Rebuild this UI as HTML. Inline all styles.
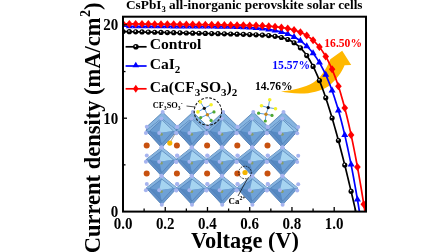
<!DOCTYPE html>
<html><head><meta charset="utf-8"><style>html,body{margin:0;padding:0;background:#fff;}svg{display:block;}svg{will-change:transform;}</style></head>
<body><svg width="448" height="252" viewBox="0 0 448 252">
<rect width="448" height="252" fill="#fff"/>
<g><polygon points="162.7,112.1 177.6,126.7 177.0,130.8 161.8,147.5 146.2,130.8 147.2,126.3" fill="#86b4e0" stroke="#4474ab" stroke-width="0.7"/><polygon points="161.8,118.5 177.0,130.8 161.8,147.5 146.2,130.8" fill="#6d9dd0" stroke="#3f6da5" stroke-width="0.8"/><polygon points="161.8,118.5 161.8,119.7 149.8,131.0 146.2,130.8" fill="#86b3de"/><polygon points="161.8,118.5 177.0,130.8 173.4,131.0 161.8,119.7" fill="#94c0e6"/><polygon points="177.0,130.8 161.8,147.5 161.8,143.9 173.4,131.0" fill="#6d9bcf"/><polygon points="161.8,147.5 146.2,130.8 149.8,131.0 161.8,143.9" fill="#5f8ec6"/><polygon points="159.2,133.0 161.8,119.7 149.8,131.0" fill="#6b9dd2"/><polygon points="159.2,133.0 161.8,119.7 173.4,131.0" fill="#a6d4f1"/><polygon points="159.2,133.0 173.4,131.0 161.8,143.9" fill="#6fa2d6"/><polygon points="159.2,133.0 161.8,143.9 149.8,131.0" fill="#5689c3"/><polygon points="161.8,119.7 173.4,131.0 161.8,143.9 149.8,131.0" fill="none" stroke="#4a78b0" stroke-width="0.6"/><circle cx="161.4" cy="134.2" r="1.5" fill="#8d9c58" opacity="0.85"/><polygon points="192.9,112.1 207.8,126.7 207.2,130.8 192.0,147.5 176.4,130.8 177.4,126.3" fill="#86b4e0" stroke="#4474ab" stroke-width="0.7"/><polygon points="192.0,118.5 207.2,130.8 192.0,147.5 176.4,130.8" fill="#6d9dd0" stroke="#3f6da5" stroke-width="0.8"/><polygon points="192.0,118.5 192.0,119.7 180.0,131.0 176.4,130.8" fill="#86b3de"/><polygon points="192.0,118.5 207.2,130.8 203.6,131.0 192.0,119.7" fill="#94c0e6"/><polygon points="207.2,130.8 192.0,147.5 192.0,143.9 203.6,131.0" fill="#6d9bcf"/><polygon points="192.0,147.5 176.4,130.8 180.0,131.0 192.0,143.9" fill="#5f8ec6"/><polygon points="189.4,133.0 192.0,119.7 180.0,131.0" fill="#6b9dd2"/><polygon points="189.4,133.0 192.0,119.7 203.6,131.0" fill="#a6d4f1"/><polygon points="189.4,133.0 203.6,131.0 192.0,143.9" fill="#6fa2d6"/><polygon points="189.4,133.0 192.0,143.9 180.0,131.0" fill="#5689c3"/><polygon points="192.0,119.7 203.6,131.0 192.0,143.9 180.0,131.0" fill="none" stroke="#4a78b0" stroke-width="0.6"/><circle cx="191.6" cy="134.2" r="1.5" fill="#8d9c58" opacity="0.85"/><polygon points="223.1,112.1 238.0,126.7 237.4,130.8 222.2,147.5 206.6,130.8 207.6,126.3" fill="#86b4e0" stroke="#4474ab" stroke-width="0.7"/><polygon points="222.2,118.5 237.4,130.8 222.2,147.5 206.6,130.8" fill="#6d9dd0" stroke="#3f6da5" stroke-width="0.8"/><polygon points="222.2,118.5 222.2,119.7 210.2,131.0 206.6,130.8" fill="#86b3de"/><polygon points="222.2,118.5 237.4,130.8 233.8,131.0 222.2,119.7" fill="#94c0e6"/><polygon points="237.4,130.8 222.2,147.5 222.2,143.9 233.8,131.0" fill="#6d9bcf"/><polygon points="222.2,147.5 206.6,130.8 210.2,131.0 222.2,143.9" fill="#5f8ec6"/><polygon points="219.6,133.0 222.2,119.7 210.2,131.0" fill="#6b9dd2"/><polygon points="219.6,133.0 222.2,119.7 233.8,131.0" fill="#a6d4f1"/><polygon points="219.6,133.0 233.8,131.0 222.2,143.9" fill="#6fa2d6"/><polygon points="219.6,133.0 222.2,143.9 210.2,131.0" fill="#5689c3"/><polygon points="222.2,119.7 233.8,131.0 222.2,143.9 210.2,131.0" fill="none" stroke="#4a78b0" stroke-width="0.6"/><circle cx="221.8" cy="134.2" r="1.5" fill="#8d9c58" opacity="0.85"/><polygon points="253.3,112.1 268.2,126.7 267.6,130.8 252.4,147.5 236.8,130.8 237.8,126.3" fill="#86b4e0" stroke="#4474ab" stroke-width="0.7"/><polygon points="252.4,118.5 267.6,130.8 252.4,147.5 236.8,130.8" fill="#6d9dd0" stroke="#3f6da5" stroke-width="0.8"/><polygon points="252.4,118.5 252.4,119.7 240.4,131.0 236.8,130.8" fill="#86b3de"/><polygon points="252.4,118.5 267.6,130.8 264.0,131.0 252.4,119.7" fill="#94c0e6"/><polygon points="267.6,130.8 252.4,147.5 252.4,143.9 264.0,131.0" fill="#6d9bcf"/><polygon points="252.4,147.5 236.8,130.8 240.4,131.0 252.4,143.9" fill="#5f8ec6"/><polygon points="249.8,133.0 252.4,119.7 240.4,131.0" fill="#6b9dd2"/><polygon points="249.8,133.0 252.4,119.7 264.0,131.0" fill="#a6d4f1"/><polygon points="249.8,133.0 264.0,131.0 252.4,143.9" fill="#6fa2d6"/><polygon points="249.8,133.0 252.4,143.9 240.4,131.0" fill="#5689c3"/><polygon points="252.4,119.7 264.0,131.0 252.4,143.9 240.4,131.0" fill="none" stroke="#4a78b0" stroke-width="0.6"/><circle cx="252.0" cy="134.2" r="1.5" fill="#8d9c58" opacity="0.85"/><polygon points="283.5,112.1 298.4,126.7 297.8,130.8 282.6,147.5 267.0,130.8 268.0,126.3" fill="#86b4e0" stroke="#4474ab" stroke-width="0.7"/><polygon points="282.6,118.5 297.8,130.8 282.6,147.5 267.0,130.8" fill="#6d9dd0" stroke="#3f6da5" stroke-width="0.8"/><polygon points="282.6,118.5 282.6,119.7 270.6,131.0 267.0,130.8" fill="#86b3de"/><polygon points="282.6,118.5 297.8,130.8 294.2,131.0 282.6,119.7" fill="#94c0e6"/><polygon points="297.8,130.8 282.6,147.5 282.6,143.9 294.2,131.0" fill="#6d9bcf"/><polygon points="282.6,147.5 267.0,130.8 270.6,131.0 282.6,143.9" fill="#5f8ec6"/><polygon points="280.0,133.0 282.6,119.7 270.6,131.0" fill="#6b9dd2"/><polygon points="280.0,133.0 282.6,119.7 294.2,131.0" fill="#a6d4f1"/><polygon points="280.0,133.0 294.2,131.0 282.6,143.9" fill="#6fa2d6"/><polygon points="280.0,133.0 282.6,143.9 270.6,131.0" fill="#5689c3"/><polygon points="282.6,119.7 294.2,131.0 282.6,143.9 270.6,131.0" fill="none" stroke="#4a78b0" stroke-width="0.6"/><circle cx="282.2" cy="134.2" r="1.5" fill="#8d9c58" opacity="0.85"/><polygon points="161.8,147.2 177.0,159.5 161.8,176.2 146.2,159.5" fill="#6d9dd0" stroke="#3f6da5" stroke-width="0.8"/><polygon points="161.8,147.2 161.8,150.6 149.8,159.7 146.2,159.5" fill="#86b3de"/><polygon points="161.8,147.2 177.0,159.5 173.4,159.7 161.8,150.6" fill="#94c0e6"/><polygon points="177.0,159.5 161.8,176.2 161.8,172.6 173.4,159.7" fill="#6d9bcf"/><polygon points="161.8,176.2 146.2,159.5 149.8,159.7 161.8,172.6" fill="#5f8ec6"/><polygon points="159.2,161.7 161.8,150.6 149.8,159.7" fill="#6b9dd2"/><polygon points="159.2,161.7 161.8,150.6 173.4,159.7" fill="#a6d4f1"/><polygon points="159.2,161.7 173.4,159.7 161.8,172.6" fill="#6fa2d6"/><polygon points="159.2,161.7 161.8,172.6 149.8,159.7" fill="#5689c3"/><polygon points="161.8,150.6 173.4,159.7 161.8,172.6 149.8,159.7" fill="none" stroke="#4a78b0" stroke-width="0.6"/><circle cx="161.4" cy="162.9" r="1.5" fill="#8d9c58" opacity="0.85"/><polygon points="192.0,147.2 207.2,159.5 192.0,176.2 176.4,159.5" fill="#6d9dd0" stroke="#3f6da5" stroke-width="0.8"/><polygon points="192.0,147.2 192.0,150.6 180.0,159.7 176.4,159.5" fill="#86b3de"/><polygon points="192.0,147.2 207.2,159.5 203.6,159.7 192.0,150.6" fill="#94c0e6"/><polygon points="207.2,159.5 192.0,176.2 192.0,172.6 203.6,159.7" fill="#6d9bcf"/><polygon points="192.0,176.2 176.4,159.5 180.0,159.7 192.0,172.6" fill="#5f8ec6"/><polygon points="189.4,161.7 192.0,150.6 180.0,159.7" fill="#6b9dd2"/><polygon points="189.4,161.7 192.0,150.6 203.6,159.7" fill="#a6d4f1"/><polygon points="189.4,161.7 203.6,159.7 192.0,172.6" fill="#6fa2d6"/><polygon points="189.4,161.7 192.0,172.6 180.0,159.7" fill="#5689c3"/><polygon points="192.0,150.6 203.6,159.7 192.0,172.6 180.0,159.7" fill="none" stroke="#4a78b0" stroke-width="0.6"/><circle cx="191.6" cy="162.9" r="1.5" fill="#8d9c58" opacity="0.85"/><polygon points="222.2,147.2 237.4,159.5 222.2,176.2 206.6,159.5" fill="#6d9dd0" stroke="#3f6da5" stroke-width="0.8"/><polygon points="222.2,147.2 222.2,150.6 210.2,159.7 206.6,159.5" fill="#86b3de"/><polygon points="222.2,147.2 237.4,159.5 233.8,159.7 222.2,150.6" fill="#94c0e6"/><polygon points="237.4,159.5 222.2,176.2 222.2,172.6 233.8,159.7" fill="#6d9bcf"/><polygon points="222.2,176.2 206.6,159.5 210.2,159.7 222.2,172.6" fill="#5f8ec6"/><polygon points="219.6,161.7 222.2,150.6 210.2,159.7" fill="#6b9dd2"/><polygon points="219.6,161.7 222.2,150.6 233.8,159.7" fill="#a6d4f1"/><polygon points="219.6,161.7 233.8,159.7 222.2,172.6" fill="#6fa2d6"/><polygon points="219.6,161.7 222.2,172.6 210.2,159.7" fill="#5689c3"/><polygon points="222.2,150.6 233.8,159.7 222.2,172.6 210.2,159.7" fill="none" stroke="#4a78b0" stroke-width="0.6"/><circle cx="221.8" cy="162.9" r="1.5" fill="#8d9c58" opacity="0.85"/><polygon points="252.4,147.2 267.6,159.5 252.4,176.2 236.8,159.5" fill="#6d9dd0" stroke="#3f6da5" stroke-width="0.8"/><polygon points="252.4,147.2 252.4,150.6 240.4,159.7 236.8,159.5" fill="#86b3de"/><polygon points="252.4,147.2 267.6,159.5 264.0,159.7 252.4,150.6" fill="#94c0e6"/><polygon points="267.6,159.5 252.4,176.2 252.4,172.6 264.0,159.7" fill="#6d9bcf"/><polygon points="252.4,176.2 236.8,159.5 240.4,159.7 252.4,172.6" fill="#5f8ec6"/><polygon points="249.8,161.7 252.4,150.6 240.4,159.7" fill="#6b9dd2"/><polygon points="249.8,161.7 252.4,150.6 264.0,159.7" fill="#a6d4f1"/><polygon points="249.8,161.7 264.0,159.7 252.4,172.6" fill="#6fa2d6"/><polygon points="249.8,161.7 252.4,172.6 240.4,159.7" fill="#5689c3"/><polygon points="252.4,150.6 264.0,159.7 252.4,172.6 240.4,159.7" fill="none" stroke="#4a78b0" stroke-width="0.6"/><circle cx="252.0" cy="162.9" r="1.5" fill="#8d9c58" opacity="0.85"/><polygon points="282.6,147.2 297.8,159.5 282.6,176.2 267.0,159.5" fill="#6d9dd0" stroke="#3f6da5" stroke-width="0.8"/><polygon points="282.6,147.2 282.6,150.6 270.6,159.7 267.0,159.5" fill="#86b3de"/><polygon points="282.6,147.2 297.8,159.5 294.2,159.7 282.6,150.6" fill="#94c0e6"/><polygon points="297.8,159.5 282.6,176.2 282.6,172.6 294.2,159.7" fill="#6d9bcf"/><polygon points="282.6,176.2 267.0,159.5 270.6,159.7 282.6,172.6" fill="#5f8ec6"/><polygon points="280.0,161.7 282.6,150.6 270.6,159.7" fill="#6b9dd2"/><polygon points="280.0,161.7 282.6,150.6 294.2,159.7" fill="#a6d4f1"/><polygon points="280.0,161.7 294.2,159.7 282.6,172.6" fill="#6fa2d6"/><polygon points="280.0,161.7 282.6,172.6 270.6,159.7" fill="#5689c3"/><polygon points="282.6,150.6 294.2,159.7 282.6,172.6 270.6,159.7" fill="none" stroke="#4a78b0" stroke-width="0.6"/><circle cx="282.2" cy="162.9" r="1.5" fill="#8d9c58" opacity="0.85"/><polygon points="161.8,175.7 177.0,188.0 161.8,204.7 146.2,188.0" fill="#6d9dd0" stroke="#3f6da5" stroke-width="0.8"/><polygon points="161.8,175.7 161.8,179.1 149.8,188.2 146.2,188.0" fill="#86b3de"/><polygon points="161.8,175.7 177.0,188.0 173.4,188.2 161.8,179.1" fill="#94c0e6"/><polygon points="177.0,188.0 161.8,204.7 161.8,201.1 173.4,188.2" fill="#6d9bcf"/><polygon points="161.8,204.7 146.2,188.0 149.8,188.2 161.8,201.1" fill="#5f8ec6"/><polygon points="159.2,190.2 161.8,179.1 149.8,188.2" fill="#6b9dd2"/><polygon points="159.2,190.2 161.8,179.1 173.4,188.2" fill="#a6d4f1"/><polygon points="159.2,190.2 173.4,188.2 161.8,201.1" fill="#6fa2d6"/><polygon points="159.2,190.2 161.8,201.1 149.8,188.2" fill="#5689c3"/><polygon points="161.8,179.1 173.4,188.2 161.8,201.1 149.8,188.2" fill="none" stroke="#4a78b0" stroke-width="0.6"/><circle cx="161.4" cy="191.4" r="1.5" fill="#8d9c58" opacity="0.85"/><polygon points="192.0,175.7 207.2,188.0 192.0,204.7 176.4,188.0" fill="#6d9dd0" stroke="#3f6da5" stroke-width="0.8"/><polygon points="192.0,175.7 192.0,179.1 180.0,188.2 176.4,188.0" fill="#86b3de"/><polygon points="192.0,175.7 207.2,188.0 203.6,188.2 192.0,179.1" fill="#94c0e6"/><polygon points="207.2,188.0 192.0,204.7 192.0,201.1 203.6,188.2" fill="#6d9bcf"/><polygon points="192.0,204.7 176.4,188.0 180.0,188.2 192.0,201.1" fill="#5f8ec6"/><polygon points="189.4,190.2 192.0,179.1 180.0,188.2" fill="#6b9dd2"/><polygon points="189.4,190.2 192.0,179.1 203.6,188.2" fill="#a6d4f1"/><polygon points="189.4,190.2 203.6,188.2 192.0,201.1" fill="#6fa2d6"/><polygon points="189.4,190.2 192.0,201.1 180.0,188.2" fill="#5689c3"/><polygon points="192.0,179.1 203.6,188.2 192.0,201.1 180.0,188.2" fill="none" stroke="#4a78b0" stroke-width="0.6"/><circle cx="191.6" cy="191.4" r="1.5" fill="#8d9c58" opacity="0.85"/><polygon points="222.2,175.7 237.4,188.0 222.2,204.7 206.6,188.0" fill="#6d9dd0" stroke="#3f6da5" stroke-width="0.8"/><polygon points="222.2,175.7 222.2,179.1 210.2,188.2 206.6,188.0" fill="#86b3de"/><polygon points="222.2,175.7 237.4,188.0 233.8,188.2 222.2,179.1" fill="#94c0e6"/><polygon points="237.4,188.0 222.2,204.7 222.2,201.1 233.8,188.2" fill="#6d9bcf"/><polygon points="222.2,204.7 206.6,188.0 210.2,188.2 222.2,201.1" fill="#5f8ec6"/><polygon points="219.6,190.2 222.2,179.1 210.2,188.2" fill="#6b9dd2"/><polygon points="219.6,190.2 222.2,179.1 233.8,188.2" fill="#a6d4f1"/><polygon points="219.6,190.2 233.8,188.2 222.2,201.1" fill="#6fa2d6"/><polygon points="219.6,190.2 222.2,201.1 210.2,188.2" fill="#5689c3"/><polygon points="222.2,179.1 233.8,188.2 222.2,201.1 210.2,188.2" fill="none" stroke="#4a78b0" stroke-width="0.6"/><circle cx="221.8" cy="191.4" r="1.5" fill="#8d9c58" opacity="0.85"/><polygon points="252.4,175.7 267.6,188.0 252.4,204.7 236.8,188.0" fill="#6d9dd0" stroke="#3f6da5" stroke-width="0.8"/><polygon points="252.4,175.7 252.4,179.1 240.4,188.2 236.8,188.0" fill="#86b3de"/><polygon points="252.4,175.7 267.6,188.0 264.0,188.2 252.4,179.1" fill="#94c0e6"/><polygon points="267.6,188.0 252.4,204.7 252.4,201.1 264.0,188.2" fill="#6d9bcf"/><polygon points="252.4,204.7 236.8,188.0 240.4,188.2 252.4,201.1" fill="#5f8ec6"/><polygon points="249.8,190.2 252.4,179.1 240.4,188.2" fill="#6b9dd2"/><polygon points="249.8,190.2 252.4,179.1 264.0,188.2" fill="#a6d4f1"/><polygon points="249.8,190.2 264.0,188.2 252.4,201.1" fill="#6fa2d6"/><polygon points="249.8,190.2 252.4,201.1 240.4,188.2" fill="#5689c3"/><polygon points="252.4,179.1 264.0,188.2 252.4,201.1 240.4,188.2" fill="none" stroke="#4a78b0" stroke-width="0.6"/><circle cx="252.0" cy="191.4" r="1.5" fill="#8d9c58" opacity="0.85"/><polygon points="282.6,175.7 297.8,188.0 282.6,204.7 267.0,188.0" fill="#6d9dd0" stroke="#3f6da5" stroke-width="0.8"/><polygon points="282.6,175.7 282.6,179.1 270.6,188.2 267.0,188.0" fill="#86b3de"/><polygon points="282.6,175.7 297.8,188.0 294.2,188.2 282.6,179.1" fill="#94c0e6"/><polygon points="297.8,188.0 282.6,204.7 282.6,201.1 294.2,188.2" fill="#6d9bcf"/><polygon points="282.6,204.7 267.0,188.0 270.6,188.2 282.6,201.1" fill="#5f8ec6"/><polygon points="280.0,190.2 282.6,179.1 270.6,188.2" fill="#6b9dd2"/><polygon points="280.0,190.2 282.6,179.1 294.2,188.2" fill="#a6d4f1"/><polygon points="280.0,190.2 294.2,188.2 282.6,201.1" fill="#6fa2d6"/><polygon points="280.0,190.2 282.6,201.1 270.6,188.2" fill="#5689c3"/><polygon points="282.6,179.1 294.2,188.2 282.6,201.1 270.6,188.2" fill="none" stroke="#4a78b0" stroke-width="0.6"/><circle cx="282.2" cy="191.4" r="1.5" fill="#8d9c58" opacity="0.85"/></g>
<g fill="#a6b4ef"><circle cx="161.4" cy="118.5" r="2.0"/><circle cx="161.8" cy="147.5" r="2.0"/><circle cx="159.2" cy="133.0" r="2.0"/><circle cx="145.9" cy="133.0" r="2.0"/><circle cx="146.8" cy="126.7" r="2.0"/><circle cx="176.4" cy="133.2" r="2.0"/><circle cx="177.4" cy="127.0" r="2.0"/><circle cx="162.7" cy="112.1" r="2.0"/><circle cx="191.6" cy="118.5" r="2.0"/><circle cx="192.0" cy="147.5" r="2.0"/><circle cx="189.4" cy="133.0" r="2.0"/><circle cx="176.1" cy="133.0" r="2.0"/><circle cx="177.0" cy="126.7" r="2.0"/><circle cx="206.6" cy="133.2" r="2.0"/><circle cx="207.6" cy="127.0" r="2.0"/><circle cx="192.9" cy="112.1" r="2.0"/><circle cx="221.8" cy="118.5" r="2.0"/><circle cx="222.2" cy="147.5" r="2.0"/><circle cx="219.6" cy="133.0" r="2.0"/><circle cx="206.3" cy="133.0" r="2.0"/><circle cx="207.2" cy="126.7" r="2.0"/><circle cx="236.8" cy="133.2" r="2.0"/><circle cx="237.8" cy="127.0" r="2.0"/><circle cx="223.1" cy="112.1" r="2.0"/><circle cx="252.0" cy="118.5" r="2.0"/><circle cx="252.4" cy="147.5" r="2.0"/><circle cx="249.8" cy="133.0" r="2.0"/><circle cx="236.5" cy="133.0" r="2.0"/><circle cx="237.4" cy="126.7" r="2.0"/><circle cx="267.0" cy="133.2" r="2.0"/><circle cx="268.0" cy="127.0" r="2.0"/><circle cx="253.3" cy="112.1" r="2.0"/><circle cx="282.2" cy="118.5" r="2.0"/><circle cx="282.6" cy="147.5" r="2.0"/><circle cx="280.0" cy="133.0" r="2.0"/><circle cx="266.7" cy="133.0" r="2.0"/><circle cx="267.6" cy="126.7" r="2.0"/><circle cx="297.2" cy="133.2" r="2.0"/><circle cx="298.2" cy="127.0" r="2.0"/><circle cx="283.5" cy="112.1" r="2.0"/><circle cx="161.4" cy="147.2" r="2.0"/><circle cx="161.8" cy="176.2" r="2.0"/><circle cx="159.2" cy="161.7" r="2.0"/><circle cx="145.9" cy="161.7" r="2.0"/><circle cx="146.8" cy="155.4" r="2.0"/><circle cx="176.4" cy="161.9" r="2.0"/><circle cx="177.4" cy="155.7" r="2.0"/><circle cx="191.6" cy="147.2" r="2.0"/><circle cx="192.0" cy="176.2" r="2.0"/><circle cx="189.4" cy="161.7" r="2.0"/><circle cx="176.1" cy="161.7" r="2.0"/><circle cx="177.0" cy="155.4" r="2.0"/><circle cx="206.6" cy="161.9" r="2.0"/><circle cx="207.6" cy="155.7" r="2.0"/><circle cx="221.8" cy="147.2" r="2.0"/><circle cx="222.2" cy="176.2" r="2.0"/><circle cx="219.6" cy="161.7" r="2.0"/><circle cx="206.3" cy="161.7" r="2.0"/><circle cx="207.2" cy="155.4" r="2.0"/><circle cx="236.8" cy="161.9" r="2.0"/><circle cx="237.8" cy="155.7" r="2.0"/><circle cx="252.0" cy="147.2" r="2.0"/><circle cx="252.4" cy="176.2" r="2.0"/><circle cx="249.8" cy="161.7" r="2.0"/><circle cx="236.5" cy="161.7" r="2.0"/><circle cx="237.4" cy="155.4" r="2.0"/><circle cx="267.0" cy="161.9" r="2.0"/><circle cx="268.0" cy="155.7" r="2.0"/><circle cx="282.2" cy="147.2" r="2.0"/><circle cx="282.6" cy="176.2" r="2.0"/><circle cx="280.0" cy="161.7" r="2.0"/><circle cx="266.7" cy="161.7" r="2.0"/><circle cx="267.6" cy="155.4" r="2.0"/><circle cx="297.2" cy="161.9" r="2.0"/><circle cx="298.2" cy="155.7" r="2.0"/><circle cx="161.4" cy="175.7" r="2.0"/><circle cx="161.8" cy="204.7" r="2.0"/><circle cx="159.2" cy="190.2" r="2.0"/><circle cx="145.9" cy="190.2" r="2.0"/><circle cx="146.8" cy="183.9" r="2.0"/><circle cx="176.4" cy="190.4" r="2.0"/><circle cx="177.4" cy="184.2" r="2.0"/><circle cx="191.6" cy="175.7" r="2.0"/><circle cx="192.0" cy="204.7" r="2.0"/><circle cx="189.4" cy="190.2" r="2.0"/><circle cx="176.1" cy="190.2" r="2.0"/><circle cx="177.0" cy="183.9" r="2.0"/><circle cx="206.6" cy="190.4" r="2.0"/><circle cx="207.6" cy="184.2" r="2.0"/><circle cx="221.8" cy="175.7" r="2.0"/><circle cx="222.2" cy="204.7" r="2.0"/><circle cx="219.6" cy="190.2" r="2.0"/><circle cx="206.3" cy="190.2" r="2.0"/><circle cx="207.2" cy="183.9" r="2.0"/><circle cx="236.8" cy="190.4" r="2.0"/><circle cx="237.8" cy="184.2" r="2.0"/><circle cx="252.0" cy="175.7" r="2.0"/><circle cx="252.4" cy="204.7" r="2.0"/><circle cx="249.8" cy="190.2" r="2.0"/><circle cx="236.5" cy="190.2" r="2.0"/><circle cx="237.4" cy="183.9" r="2.0"/><circle cx="267.0" cy="190.4" r="2.0"/><circle cx="268.0" cy="184.2" r="2.0"/><circle cx="282.2" cy="175.7" r="2.0"/><circle cx="282.6" cy="204.7" r="2.0"/><circle cx="280.0" cy="190.2" r="2.0"/><circle cx="266.7" cy="190.2" r="2.0"/><circle cx="267.6" cy="183.9" r="2.0"/><circle cx="297.2" cy="190.4" r="2.0"/><circle cx="298.2" cy="184.2" r="2.0"/></g>
<g fill="#c8510f"><circle cx="146.7" cy="145.5" r="3"/><circle cx="176.89999999999998" cy="145.5" r="3"/><circle cx="207.1" cy="145.5" r="3"/><circle cx="237.29999999999998" cy="145.5" r="3"/><circle cx="267.5" cy="145.5" r="3"/><circle cx="146.7" cy="173.5" r="3"/><circle cx="176.89999999999998" cy="173.5" r="3"/><circle cx="207.1" cy="173.5" r="3"/><circle cx="237.29999999999998" cy="173.5" r="3"/><circle cx="267.5" cy="173.5" r="3"/></g>
<line x1="169.8" y1="143" x2="175" y2="134" stroke="#777" stroke-width="0.7"/>
<circle cx="169.8" cy="143.1" r="2.6" fill="#f5b400"/>
<circle cx="245" cy="172.5" r="2.6" fill="#f5b400"/>
<circle cx="245" cy="172.5" r="6.3" fill="none" stroke="#111" stroke-width="0.9" stroke-dasharray="1.6,1.1"/>
<line x1="238" y1="196" x2="247.5" y2="178.5" stroke="#111" stroke-width="0.8"/>
<circle cx="207.9" cy="111.5" r="13.7" fill="none" stroke="#111" stroke-width="1.05" stroke-dasharray="2.6,1.5"/>
<line x1="204.3" y1="108.3" x2="200.3" y2="101.9" stroke="#4a90d9" stroke-width="0.9"/><line x1="204.3" y1="108.3" x2="211.1" y2="104.7" stroke="#4a90d9" stroke-width="0.9"/><line x1="204.3" y1="108.3" x2="197.9" y2="111.9" stroke="#4a90d9" stroke-width="0.9"/><line x1="204.3" y1="108.3" x2="207.4" y2="114.7" stroke="#4a90d9" stroke-width="0.9"/><line x1="207.4" y1="114.7" x2="214" y2="111.9" stroke="#4a90d9" stroke-width="0.9"/><line x1="207.4" y1="114.7" x2="200.7" y2="117.6" stroke="#4a90d9" stroke-width="0.9"/><line x1="207.4" y1="114.7" x2="211.1" y2="120.4" stroke="#4a90d9" stroke-width="0.9"/><circle cx="200.3" cy="101.9" r="1.8" fill="#f5f02a"/><circle cx="211.1" cy="104.7" r="1.8" fill="#f5f02a"/><circle cx="197.9" cy="111.9" r="1.8" fill="#f5f02a"/><circle cx="214" cy="111.9" r="1.6" fill="#4ea832"/><circle cx="200.7" cy="117.6" r="1.6" fill="#4ea832"/><circle cx="211.1" cy="120.4" r="1.6" fill="#4ea832"/><circle cx="207.4" cy="114.7" r="1.7" fill="#c8861c"/><circle cx="204.3" cy="108.3" r="1.6" fill="#111"/>
<line x1="268.2" y1="107.6" x2="269.7" y2="99.8" stroke="#4a90d9" stroke-width="0.9"/><line x1="268.2" y1="107.6" x2="261.5" y2="105.8" stroke="#4a90d9" stroke-width="0.9"/><line x1="268.2" y1="107.6" x2="275.5" y2="108.7" stroke="#4a90d9" stroke-width="0.9"/><line x1="268.2" y1="107.6" x2="266" y2="114.3" stroke="#4a90d9" stroke-width="0.9"/><line x1="266" y1="114.3" x2="258.6" y2="113.2" stroke="#4a90d9" stroke-width="0.9"/><line x1="266" y1="114.3" x2="272" y2="115.4" stroke="#4a90d9" stroke-width="0.9"/><line x1="266" y1="114.3" x2="265.3" y2="121" stroke="#4a90d9" stroke-width="0.9"/><circle cx="269.7" cy="99.8" r="1.8" fill="#f5f02a"/><circle cx="261.5" cy="105.8" r="1.8" fill="#f5f02a"/><circle cx="275.5" cy="108.7" r="1.8" fill="#f5f02a"/><circle cx="258.6" cy="113.2" r="1.6" fill="#4ea832"/><circle cx="272" cy="115.4" r="1.6" fill="#4ea832"/><circle cx="265.3" cy="121" r="1.6" fill="#4ea832"/><circle cx="266" cy="114.3" r="1.7" fill="#c8861c"/><circle cx="268.2" cy="107.6" r="1.6" fill="#111"/>
<line x1="186.5" y1="106" x2="195" y2="107" stroke="#222" stroke-width="0.8"/>
<path d="M281,91.6 C292,90.5 305,87.6 313,82.8 C320,78.2 325.5,71 330.3,59.2 L342.2,50.7 L351.2,65 L344.6,65.3 C341.5,72.5 336.5,80 328.5,86.3 C320.5,91.6 310,93.7 300,93.6 C292,93.5 286,92.6 281,91.6 Z" fill="#ffb800"/>
<path d="M123.00,31.54 L124.17,31.56 L125.34,31.59 L126.51,31.62 L127.68,31.64 L128.85,31.67 L130.02,31.70 L131.19,31.72 L132.36,31.75 L133.53,31.78 L134.70,31.80 L135.87,31.83 L137.04,31.86 L138.21,31.88 L139.38,31.91 L140.55,31.94 L141.72,31.96 L142.89,31.99 L144.06,32.02 L145.22,32.04 L146.39,32.07 L147.56,32.10 L148.73,32.12 L149.90,32.15 L151.07,32.18 L152.24,32.20 L153.41,32.23 L154.58,32.26 L155.75,32.28 L156.92,32.31 L158.09,32.34 L159.26,32.36 L160.43,32.39 L161.60,32.42 L162.77,32.44 L163.94,32.47 L165.11,32.50 L166.28,32.52 L167.45,32.55 L168.62,32.58 L169.79,32.60 L170.96,32.63 L172.13,32.66 L173.30,32.68 L174.47,32.71 L175.64,32.74 L176.81,32.76 L177.98,32.79 L179.15,32.82 L180.32,32.84 L181.49,32.87 L182.66,32.90 L183.83,32.92 L185.00,32.95 L186.17,32.98 L187.33,33.00 L188.50,33.03 L189.67,33.06 L190.84,33.09 L192.01,33.11 L193.18,33.14 L194.35,33.17 L195.52,33.19 L196.69,33.22 L197.86,33.25 L199.03,33.27 L200.20,33.30 L201.37,33.33 L202.54,33.35 L203.71,33.38 L204.88,33.41 L206.05,33.43 L207.22,33.46 L208.39,33.49 L209.56,33.51 L210.73,33.54 L211.90,33.57 L213.07,33.60 L214.24,33.62 L215.41,33.65 L216.58,33.68 L217.75,33.70 L218.92,33.73 L220.09,33.76 L221.26,33.79 L222.43,33.81 L223.60,33.84 L224.77,33.87 L225.94,33.90 L227.11,33.93 L228.28,33.95 L229.44,33.98 L230.61,34.01 L231.78,34.04 L232.95,34.07 L234.12,34.10 L235.29,34.13 L236.46,34.16 L237.63,34.19 L238.80,34.22 L239.97,34.25 L241.14,34.29 L242.31,34.32 L243.48,34.35 L244.65,34.39 L245.82,34.42 L246.99,34.46 L248.16,34.50 L249.33,34.54 L250.50,34.58 L251.67,34.62 L252.84,34.66 L254.01,34.71 L255.18,34.76 L256.35,34.81 L257.52,34.86 L258.69,34.92 L259.86,34.98 L261.03,35.04 L262.20,35.11 L263.37,35.18 L264.54,35.26 L265.71,35.34 L266.88,35.43 L268.05,35.53 L269.22,35.64 L270.39,35.75 L271.55,35.88 L272.72,36.01 L273.89,36.16 L275.06,36.33 L276.23,36.50 L277.40,36.70 L278.57,36.91 L279.74,37.15 L280.91,37.41 L282.08,37.69 L283.25,38.00 L284.42,38.34 L285.59,38.71 L286.76,39.12 L287.93,39.57 L289.10,40.06 L290.27,40.60 L291.44,41.19 L292.61,41.84 L293.78,42.54 L294.95,43.31 L296.12,44.15 L297.29,45.06 L298.46,46.04 L299.63,47.11 L300.80,48.26 L301.97,49.50 L303.14,50.83 L304.31,52.27 L305.48,53.80 L306.65,55.44 L307.82,57.18 L308.99,59.03 L310.16,61.00 L311.33,63.07 L312.50,65.26 L313.66,67.56 L314.83,69.98 L316.00,72.51 L317.17,75.15 L318.34,77.91 L319.51,80.78 L320.68,83.75 L321.85,86.83 L323.02,90.02 L324.19,93.31 L325.36,96.70 L326.53,100.19 L327.70,103.77 L328.87,107.45 L330.04,111.21 L331.21,115.06 L332.38,119.00 L333.55,123.02 L334.72,127.11 L335.89,131.28 L337.06,135.53 L338.23,139.84 L339.40,144.22 L340.57,148.67 L341.74,153.18 L342.91,157.76 L344.08,162.39 L345.25,167.08 L346.42,171.82 L347.59,176.61 L348.76,181.46 L349.93,186.35 L351.10,191.29 L352.27,196.28 L353.44,201.31 L354.61,206.39 L355.77,211.50" fill="none" stroke="#000" stroke-width="1.7"/>
<path d="M123.00,26.25 L124.19,26.25 L125.38,26.26 L126.56,26.26 L127.75,26.26 L128.94,26.26 L130.13,26.27 L131.32,26.27 L132.50,26.27 L133.69,26.27 L134.88,26.28 L136.07,26.28 L137.26,26.28 L138.44,26.29 L139.63,26.29 L140.82,26.29 L142.01,26.29 L143.19,26.30 L144.38,26.30 L145.57,26.30 L146.76,26.30 L147.95,26.31 L149.13,26.31 L150.32,26.31 L151.51,26.32 L152.70,26.32 L153.89,26.32 L155.07,26.32 L156.26,26.33 L157.45,26.33 L158.64,26.33 L159.83,26.34 L161.01,26.34 L162.20,26.34 L163.39,26.35 L164.58,26.35 L165.77,26.35 L166.95,26.36 L168.14,26.36 L169.33,26.36 L170.52,26.37 L171.71,26.37 L172.89,26.37 L174.08,26.38 L175.27,26.38 L176.46,26.39 L177.65,26.39 L178.83,26.39 L180.02,26.40 L181.21,26.40 L182.40,26.41 L183.58,26.41 L184.77,26.42 L185.96,26.42 L187.15,26.43 L188.34,26.43 L189.52,26.44 L190.71,26.44 L191.90,26.45 L193.09,26.45 L194.28,26.46 L195.46,26.47 L196.65,26.47 L197.84,26.48 L199.03,26.49 L200.22,26.49 L201.40,26.50 L202.59,26.51 L203.78,26.52 L204.97,26.53 L206.16,26.54 L207.34,26.54 L208.53,26.55 L209.72,26.56 L210.91,26.58 L212.10,26.59 L213.28,26.60 L214.47,26.61 L215.66,26.63 L216.85,26.64 L218.04,26.65 L219.22,26.67 L220.41,26.69 L221.60,26.70 L222.79,26.72 L223.97,26.74 L225.16,26.76 L226.35,26.78 L227.54,26.80 L228.73,26.83 L229.91,26.85 L231.10,26.88 L232.29,26.91 L233.48,26.94 L234.67,26.97 L235.85,27.00 L237.04,27.04 L238.23,27.07 L239.42,27.11 L240.61,27.16 L241.79,27.20 L242.98,27.25 L244.17,27.30 L245.36,27.35 L246.55,27.41 L247.73,27.47 L248.92,27.53 L250.11,27.60 L251.30,27.67 L252.49,27.74 L253.67,27.82 L254.86,27.91 L256.05,28.00 L257.24,28.09 L258.43,28.20 L259.61,28.30 L260.80,28.42 L261.99,28.54 L263.18,28.67 L264.36,28.81 L265.55,28.95 L266.74,29.11 L267.93,29.27 L269.12,29.44 L270.30,29.63 L271.49,29.82 L272.68,30.03 L273.87,30.25 L275.06,30.49 L276.24,30.74 L277.43,31.00 L278.62,31.29 L279.81,31.58 L281.00,31.90 L282.18,32.24 L283.37,32.59 L284.56,32.97 L285.75,33.37 L286.94,33.80 L288.12,34.25 L289.31,34.73 L290.50,35.24 L291.69,35.78 L292.88,36.35 L294.06,36.96 L295.25,37.60 L296.44,38.28 L297.63,39.00 L298.82,39.76 L300.00,40.57 L301.19,41.43 L302.38,42.33 L303.57,43.29 L304.75,44.30 L305.94,45.37 L307.13,46.50 L308.32,47.70 L309.51,48.96 L310.69,50.29 L311.88,51.70 L313.07,53.18 L314.26,54.75 L315.45,56.40 L316.63,58.13 L317.82,59.96 L319.01,61.89 L320.20,63.91 L321.39,66.04 L322.57,68.28 L323.76,70.63 L324.95,73.10 L326.14,75.68 L327.33,78.39 L328.51,81.23 L329.70,84.20 L330.89,87.31 L332.08,90.56 L333.27,93.96 L334.45,97.50 L335.64,101.20 L336.83,105.05 L338.02,109.06 L339.21,113.23 L340.39,117.58 L341.58,122.09 L342.77,126.77 L343.96,131.62 L345.14,136.66 L346.33,141.87 L347.52,147.27 L348.71,152.85 L349.90,158.61 L351.08,164.56 L352.27,170.70 L353.46,177.03 L354.65,183.54 L355.84,190.25 L357.02,197.14 L358.21,204.23 L359.40,211.50" fill="none" stroke="#0000ff" stroke-width="1.7"/>
<path d="M123.00,23.82 L124.22,23.83 L125.43,23.85 L126.65,23.86 L127.86,23.87 L129.08,23.88 L130.29,23.90 L131.51,23.91 L132.73,23.92 L133.94,23.93 L135.16,23.95 L136.37,23.96 L137.59,23.97 L138.80,23.99 L140.02,24.00 L141.24,24.01 L142.45,24.02 L143.67,24.04 L144.88,24.05 L146.10,24.06 L147.31,24.08 L148.53,24.09 L149.75,24.10 L150.96,24.11 L152.18,24.13 L153.39,24.14 L154.61,24.15 L155.83,24.17 L157.04,24.18 L158.26,24.19 L159.47,24.20 L160.69,24.22 L161.90,24.23 L163.12,24.24 L164.34,24.26 L165.55,24.27 L166.77,24.28 L167.98,24.29 L169.20,24.31 L170.41,24.32 L171.63,24.33 L172.85,24.35 L174.06,24.36 L175.28,24.37 L176.49,24.38 L177.71,24.40 L178.92,24.41 L180.14,24.42 L181.36,24.44 L182.57,24.45 L183.79,24.46 L185.00,24.48 L186.22,24.49 L187.43,24.50 L188.65,24.51 L189.87,24.53 L191.08,24.54 L192.30,24.55 L193.51,24.57 L194.73,24.58 L195.94,24.59 L197.16,24.61 L198.38,24.62 L199.59,24.64 L200.81,24.65 L202.02,24.66 L203.24,24.68 L204.46,24.69 L205.67,24.70 L206.89,24.72 L208.10,24.73 L209.32,24.75 L210.53,24.76 L211.75,24.78 L212.97,24.79 L214.18,24.80 L215.40,24.82 L216.61,24.83 L217.83,24.85 L219.04,24.87 L220.26,24.88 L221.48,24.90 L222.69,24.91 L223.91,24.93 L225.12,24.95 L226.34,24.96 L227.55,24.98 L228.77,25.00 L229.99,25.02 L231.20,25.04 L232.42,25.05 L233.63,25.07 L234.85,25.09 L236.06,25.12 L237.28,25.14 L238.50,25.16 L239.71,25.18 L240.93,25.21 L242.14,25.23 L243.36,25.26 L244.57,25.28 L245.79,25.31 L247.01,25.34 L248.22,25.37 L249.44,25.40 L250.65,25.44 L251.87,25.47 L253.08,25.51 L254.30,25.55 L255.52,25.59 L256.73,25.63 L257.95,25.68 L259.16,25.73 L260.38,25.78 L261.60,25.83 L262.81,25.89 L264.03,25.95 L265.24,26.02 L266.46,26.09 L267.67,26.16 L268.89,26.24 L270.11,26.33 L271.32,26.42 L272.54,26.51 L273.75,26.62 L274.97,26.73 L276.18,26.85 L277.40,26.98 L278.62,27.11 L279.83,27.26 L281.05,27.42 L282.26,27.59 L283.48,27.77 L284.69,27.97 L285.91,28.18 L287.13,28.41 L288.34,28.65 L289.56,28.91 L290.77,29.19 L291.99,29.50 L293.20,29.82 L294.42,30.17 L295.64,30.55 L296.85,30.95 L298.07,31.39 L299.28,31.86 L300.50,32.36 L301.71,32.90 L302.93,33.48 L304.15,34.11 L305.36,34.78 L306.58,35.50 L307.79,36.27 L309.01,37.10 L310.23,37.99 L311.44,38.94 L312.66,39.96 L313.87,41.05 L315.09,42.22 L316.30,43.47 L317.52,44.81 L318.74,46.23 L319.95,47.76 L321.17,49.38 L322.38,51.11 L323.60,52.95 L324.81,54.90 L326.03,56.98 L327.25,59.18 L328.46,61.52 L329.68,64.00 L330.89,66.62 L332.11,69.38 L333.32,72.30 L334.54,75.38 L335.76,78.62 L336.97,82.03 L338.19,85.60 L339.40,89.35 L340.62,93.29 L341.83,97.40 L343.05,101.69 L344.27,106.17 L345.48,110.85 L346.70,115.71 L347.91,120.76 L349.13,126.00 L350.34,131.44 L351.56,137.07 L352.78,142.90 L353.99,148.91 L355.21,155.12 L356.42,161.52 L357.64,168.11 L358.85,174.89 L360.07,181.85 L361.29,188.99 L362.50,196.32 L363.72,203.82 L364.93,211.50" fill="none" stroke="#ff0000" stroke-width="1.7"/>
<g><circle cx="123.00" cy="31.54" r="2.6" fill="#000"/><circle cx="122.60" cy="30.84" r="0.8" fill="#fff"/><circle cx="129.34" cy="31.68" r="2.6" fill="#000"/><circle cx="128.94" cy="30.98" r="0.8" fill="#fff"/><circle cx="135.67" cy="31.83" r="2.6" fill="#000"/><circle cx="135.27" cy="31.13" r="0.8" fill="#fff"/><circle cx="142.01" cy="31.97" r="2.6" fill="#000"/><circle cx="141.61" cy="31.27" r="0.8" fill="#fff"/><circle cx="148.34" cy="32.12" r="2.6" fill="#000"/><circle cx="147.94" cy="31.42" r="0.8" fill="#fff"/><circle cx="154.68" cy="32.26" r="2.6" fill="#000"/><circle cx="154.28" cy="31.56" r="0.8" fill="#fff"/><circle cx="161.02" cy="32.40" r="2.6" fill="#000"/><circle cx="160.62" cy="31.70" r="0.8" fill="#fff"/><circle cx="167.35" cy="32.55" r="2.6" fill="#000"/><circle cx="166.95" cy="31.85" r="0.8" fill="#fff"/><circle cx="173.69" cy="32.69" r="2.6" fill="#000"/><circle cx="173.29" cy="31.99" r="0.8" fill="#fff"/><circle cx="180.02" cy="32.84" r="2.6" fill="#000"/><circle cx="179.62" cy="32.14" r="0.8" fill="#fff"/><circle cx="186.36" cy="32.98" r="2.6" fill="#000"/><circle cx="185.96" cy="32.28" r="0.8" fill="#fff"/><circle cx="192.70" cy="33.13" r="2.6" fill="#000"/><circle cx="192.30" cy="32.43" r="0.8" fill="#fff"/><circle cx="199.03" cy="33.27" r="2.6" fill="#000"/><circle cx="198.63" cy="32.57" r="0.8" fill="#fff"/><circle cx="205.37" cy="33.42" r="2.6" fill="#000"/><circle cx="204.97" cy="32.72" r="0.8" fill="#fff"/><circle cx="211.70" cy="33.56" r="2.6" fill="#000"/><circle cx="211.30" cy="32.86" r="0.8" fill="#fff"/><circle cx="218.04" cy="33.71" r="2.6" fill="#000"/><circle cx="217.64" cy="33.01" r="0.8" fill="#fff"/><circle cx="224.38" cy="33.86" r="2.6" fill="#000"/><circle cx="223.98" cy="33.16" r="0.8" fill="#fff"/><circle cx="230.71" cy="34.01" r="2.6" fill="#000"/><circle cx="230.31" cy="33.31" r="0.8" fill="#fff"/><circle cx="237.05" cy="34.17" r="2.6" fill="#000"/><circle cx="236.65" cy="33.47" r="0.8" fill="#fff"/><circle cx="243.38" cy="34.35" r="2.6" fill="#000"/><circle cx="242.98" cy="33.65" r="0.8" fill="#fff"/><circle cx="249.72" cy="34.55" r="2.6" fill="#000"/><circle cx="249.32" cy="33.85" r="0.8" fill="#fff"/><circle cx="256.06" cy="34.79" r="2.6" fill="#000"/><circle cx="255.66" cy="34.09" r="0.8" fill="#fff"/><circle cx="262.39" cy="35.12" r="2.6" fill="#000"/><circle cx="261.99" cy="34.42" r="0.8" fill="#fff"/><circle cx="268.73" cy="35.59" r="2.6" fill="#000"/><circle cx="268.33" cy="34.89" r="0.8" fill="#fff"/><circle cx="275.06" cy="36.33" r="2.6" fill="#000"/><circle cx="274.66" cy="35.63" r="0.8" fill="#fff"/><circle cx="281.40" cy="37.52" r="2.6" fill="#000"/><circle cx="281.00" cy="36.82" r="0.8" fill="#fff"/><circle cx="287.74" cy="39.49" r="2.6" fill="#000"/><circle cx="287.34" cy="38.79" r="0.8" fill="#fff"/><circle cx="294.07" cy="42.73" r="2.6" fill="#000"/><circle cx="293.67" cy="42.03" r="0.8" fill="#fff"/><circle cx="300.41" cy="47.86" r="2.6" fill="#000"/><circle cx="300.01" cy="47.16" r="0.8" fill="#fff"/><circle cx="306.74" cy="55.58" r="2.6" fill="#000"/><circle cx="306.34" cy="54.88" r="0.8" fill="#fff"/><circle cx="313.08" cy="66.40" r="2.6" fill="#000"/><circle cx="312.68" cy="65.70" r="0.8" fill="#fff"/><circle cx="319.42" cy="80.53" r="2.6" fill="#000"/><circle cx="319.02" cy="79.83" r="0.8" fill="#fff"/><circle cx="325.75" cy="97.85" r="2.6" fill="#000"/><circle cx="325.35" cy="97.15" r="0.8" fill="#fff"/><circle cx="332.09" cy="118.01" r="2.6" fill="#000"/><circle cx="331.69" cy="117.31" r="0.8" fill="#fff"/><circle cx="338.42" cy="140.57" r="2.6" fill="#000"/><circle cx="338.02" cy="139.87" r="0.8" fill="#fff"/><circle cx="344.76" cy="165.12" r="2.6" fill="#000"/><circle cx="344.36" cy="164.42" r="0.8" fill="#fff"/><circle cx="351.10" cy="191.29" r="2.6" fill="#000"/><circle cx="350.70" cy="190.59" r="0.8" fill="#fff"/><polygon points="129.34,22.26 132.84,28.26 125.84,28.26" fill="#0000ff"/><polygon points="135.67,22.28 139.17,28.28 132.17,28.28" fill="#0000ff"/><polygon points="142.01,22.29 145.51,28.29 138.51,28.29" fill="#0000ff"/><polygon points="148.34,22.31 151.84,28.31 144.84,28.31" fill="#0000ff"/><polygon points="154.68,22.32 158.18,28.32 151.18,28.32" fill="#0000ff"/><polygon points="161.02,22.34 164.52,28.34 157.52,28.34" fill="#0000ff"/><polygon points="167.35,22.36 170.85,28.36 163.85,28.36" fill="#0000ff"/><polygon points="173.69,22.38 177.19,28.38 170.19,28.38" fill="#0000ff"/><polygon points="180.02,22.40 183.52,28.40 176.52,28.40" fill="#0000ff"/><polygon points="186.36,22.42 189.86,28.42 182.86,28.42" fill="#0000ff"/><polygon points="192.70,22.45 196.20,28.45 189.20,28.45" fill="#0000ff"/><polygon points="199.03,22.49 202.53,28.49 195.53,28.49" fill="#0000ff"/><polygon points="205.37,22.53 208.87,28.53 201.87,28.53" fill="#0000ff"/><polygon points="211.70,22.58 215.20,28.58 208.20,28.58" fill="#0000ff"/><polygon points="218.04,22.65 221.54,28.65 214.54,28.65" fill="#0000ff"/><polygon points="224.38,22.75 227.88,28.75 220.88,28.75" fill="#0000ff"/><polygon points="230.71,22.87 234.21,28.87 227.21,28.87" fill="#0000ff"/><polygon points="237.05,23.04 240.55,29.04 233.55,29.04" fill="#0000ff"/><polygon points="243.38,23.26 246.88,29.26 239.88,29.26" fill="#0000ff"/><polygon points="249.72,23.57 253.22,29.57 246.22,29.57" fill="#0000ff"/><polygon points="256.06,24.00 259.56,30.00 252.56,30.00" fill="#0000ff"/><polygon points="262.39,24.58 265.89,30.58 258.89,30.58" fill="#0000ff"/><polygon points="268.73,25.39 272.23,31.39 265.23,31.39" fill="#0000ff"/><polygon points="275.06,26.49 278.56,32.49 271.56,32.49" fill="#0000ff"/><polygon points="281.40,28.01 284.90,34.01 277.90,34.01" fill="#0000ff"/><polygon points="287.74,30.10 291.24,36.10 284.24,36.10" fill="#0000ff"/><polygon points="294.07,32.96 297.57,38.96 290.57,38.96" fill="#0000ff"/><polygon points="300.41,36.86 303.91,42.86 296.91,42.86" fill="#0000ff"/><polygon points="306.74,42.13 310.24,48.13 303.24,48.13" fill="#0000ff"/><polygon points="313.08,49.19 316.58,55.19 309.58,55.19" fill="#0000ff"/><polygon points="319.42,58.57 322.92,64.57 315.92,64.57" fill="#0000ff"/><polygon points="325.75,70.83 329.25,76.83 322.25,76.83" fill="#0000ff"/><polygon points="332.09,86.59 335.59,92.59 328.59,92.59" fill="#0000ff"/><polygon points="338.42,106.47 341.92,112.47 334.92,112.47" fill="#0000ff"/><polygon points="344.76,131.01 348.26,137.01 341.26,137.01" fill="#0000ff"/><polygon points="351.10,160.62 354.60,166.62 347.60,166.62" fill="#0000ff"/><polygon points="357.43,195.55 360.93,201.55 353.93,201.55" fill="#0000ff"/><polygon points="123.00,19.82 126.30,23.82 123.00,27.82 119.70,23.82" fill="#ff0000"/><polygon points="129.34,19.89 132.64,23.89 129.34,27.89 126.04,23.89" fill="#ff0000"/><polygon points="135.67,19.95 138.97,23.95 135.67,27.95 132.37,23.95" fill="#ff0000"/><polygon points="142.01,20.02 145.31,24.02 142.01,28.02 138.71,24.02" fill="#ff0000"/><polygon points="148.34,20.09 151.64,24.09 148.34,28.09 145.04,24.09" fill="#ff0000"/><polygon points="154.68,20.15 157.98,24.15 154.68,28.15 151.38,24.15" fill="#ff0000"/><polygon points="161.02,20.22 164.32,24.22 161.02,28.22 157.72,24.22" fill="#ff0000"/><polygon points="167.35,20.29 170.65,24.29 167.35,28.29 164.05,24.29" fill="#ff0000"/><polygon points="173.69,20.35 176.99,24.35 173.69,28.35 170.39,24.35" fill="#ff0000"/><polygon points="180.02,20.42 183.32,24.42 180.02,28.42 176.72,24.42" fill="#ff0000"/><polygon points="186.36,20.49 189.66,24.49 186.36,28.49 183.06,24.49" fill="#ff0000"/><polygon points="192.70,20.56 196.00,24.56 192.70,28.56 189.40,24.56" fill="#ff0000"/><polygon points="199.03,20.63 202.33,24.63 199.03,28.63 195.73,24.63" fill="#ff0000"/><polygon points="205.37,20.70 208.67,24.70 205.37,28.70 202.07,24.70" fill="#ff0000"/><polygon points="211.70,20.77 215.00,24.77 211.70,28.77 208.40,24.77" fill="#ff0000"/><polygon points="218.04,20.85 221.34,24.85 218.04,28.85 214.74,24.85" fill="#ff0000"/><polygon points="224.38,20.94 227.68,24.94 224.38,28.94 221.08,24.94" fill="#ff0000"/><polygon points="230.71,21.03 234.01,25.03 230.71,29.03 227.41,25.03" fill="#ff0000"/><polygon points="237.05,21.13 240.35,25.13 237.05,29.13 233.75,25.13" fill="#ff0000"/><polygon points="243.38,21.26 246.68,25.26 243.38,29.26 240.08,25.26" fill="#ff0000"/><polygon points="249.72,21.41 253.02,25.41 249.72,29.41 246.42,25.41" fill="#ff0000"/><polygon points="256.06,21.61 259.36,25.61 256.06,29.61 252.76,25.61" fill="#ff0000"/><polygon points="262.39,21.87 265.69,25.87 262.39,29.87 259.09,25.87" fill="#ff0000"/><polygon points="268.73,22.23 272.03,26.23 268.73,30.23 265.43,26.23" fill="#ff0000"/><polygon points="275.06,22.74 278.36,26.74 275.06,30.74 271.76,26.74" fill="#ff0000"/><polygon points="281.40,23.47 284.70,27.47 281.40,31.47 278.10,27.47" fill="#ff0000"/><polygon points="287.74,24.53 291.04,28.53 287.74,32.53 284.44,28.53" fill="#ff0000"/><polygon points="294.07,26.07 297.37,30.07 294.07,34.07 290.77,30.07" fill="#ff0000"/><polygon points="300.41,28.32 303.71,32.32 300.41,36.32 297.11,32.32" fill="#ff0000"/><polygon points="306.74,31.60 310.04,35.60 306.74,39.60 303.44,35.60" fill="#ff0000"/><polygon points="313.08,36.33 316.38,40.33 313.08,44.33 309.78,40.33" fill="#ff0000"/><polygon points="319.42,43.07 322.72,47.07 319.42,51.07 316.12,47.07" fill="#ff0000"/><polygon points="325.75,52.49 329.05,56.49 325.75,60.49 322.45,56.49" fill="#ff0000"/><polygon points="332.09,65.33 335.39,69.33 332.09,73.33 328.79,69.33" fill="#ff0000"/><polygon points="338.42,82.32 341.72,86.32 338.42,90.32 335.12,86.32" fill="#ff0000"/><polygon points="344.76,104.05 348.06,108.05 344.76,112.05 341.46,108.05" fill="#ff0000"/><polygon points="351.10,130.90 354.40,134.90 351.10,138.90 347.80,134.90" fill="#ff0000"/><polygon points="357.43,162.97 360.73,166.97 357.43,170.97 354.13,166.97" fill="#ff0000"/><polygon points="363.77,200.13 367.07,204.13 363.77,208.13 360.47,204.13" fill="#ff0000"/></g>
<rect x="0" y="0" width="122" height="252" fill="#fff"/>
<rect x="367" y="0" width="81" height="252" fill="#fff"/>
<rect x="123" y="16.7" width="243" height="194.9" fill="none" stroke="#000" stroke-width="2"/>
<line x1="123.00" y1="211" x2="123.00" y2="207" stroke="#000" stroke-width="1.3"/><line x1="144.12" y1="211" x2="144.12" y2="208.5" stroke="#000" stroke-width="1.3"/><line x1="165.24" y1="211" x2="165.24" y2="207" stroke="#000" stroke-width="1.3"/><line x1="186.36" y1="211" x2="186.36" y2="208.5" stroke="#000" stroke-width="1.3"/><line x1="207.48" y1="211" x2="207.48" y2="207" stroke="#000" stroke-width="1.3"/><line x1="228.60" y1="211" x2="228.60" y2="208.5" stroke="#000" stroke-width="1.3"/><line x1="249.72" y1="211" x2="249.72" y2="207" stroke="#000" stroke-width="1.3"/><line x1="270.84" y1="211" x2="270.84" y2="208.5" stroke="#000" stroke-width="1.3"/><line x1="291.96" y1="211" x2="291.96" y2="207" stroke="#000" stroke-width="1.3"/><line x1="313.08" y1="211" x2="313.08" y2="208.5" stroke="#000" stroke-width="1.3"/><line x1="334.20" y1="211" x2="334.20" y2="207" stroke="#000" stroke-width="1.3"/><line x1="355.32" y1="211" x2="355.32" y2="208.5" stroke="#000" stroke-width="1.3"/><line x1="123" y1="164.85" x2="125.5" y2="164.85" stroke="#000" stroke-width="1.3"/><line x1="123" y1="118.20" x2="127" y2="118.20" stroke="#000" stroke-width="1.3"/><line x1="123" y1="71.55" x2="125.5" y2="71.55" stroke="#000" stroke-width="1.3"/><line x1="123" y1="24.90" x2="127" y2="24.90" stroke="#000" stroke-width="1.3"/>
<line x1="125.6" y1="46.8" x2="146.6" y2="46.8" stroke="#000" stroke-width="1.7"/><circle cx="135.9" cy="46.8" r="2.8" fill="#000"/><circle cx="135.4" cy="46.1" r="0.85" fill="#fff"/>
<line x1="125.6" y1="66" x2="146.6" y2="66" stroke="#0000ff" stroke-width="1.7"/><polygon points="135.8,61.8 139.1,67.2 132.5,67.2" fill="#0000ff"/>
<line x1="125.6" y1="88.8" x2="146.6" y2="88.8" stroke="#ff0000" stroke-width="1.7"/><polygon points="135.8,84.8 138.6,88.8 135.8,92.7 133.0,88.8" fill="#ff0000"/>
<text x="126" y="9.3" font-family="&quot;Liberation Serif&quot;, serif" font-weight="bold" font-size="13.3">CsPbI<tspan font-size="8.6" dy="2.5">3</tspan><tspan dy="-2.5"> all-inorganic perovskite solar cells</tspan></text><text transform="translate(100,253.3) rotate(-90)" font-family="&quot;Liberation Serif&quot;, serif" font-weight="bold" font-size="22.5">Current density (mA/cm<tspan font-size="14" dx="0.4" dy="-9.6">2</tspan><tspan dy="9.6">)</tspan></text><text x="191" y="248" font-family="&quot;Liberation Serif&quot;, serif" font-weight="bold" font-size="22.4">Voltage (V)</text><text transform="translate(123.00,228.6) scale(1,1.05)" font-family="&quot;Liberation Serif&quot;, serif" font-weight="bold" font-size="15" text-anchor="middle">0.0</text><text transform="translate(165.24,228.6) scale(1,1.05)" font-family="&quot;Liberation Serif&quot;, serif" font-weight="bold" font-size="15" text-anchor="middle">0.2</text><text transform="translate(207.48,228.6) scale(1,1.05)" font-family="&quot;Liberation Serif&quot;, serif" font-weight="bold" font-size="15" text-anchor="middle">0.4</text><text transform="translate(249.72,228.6) scale(1,1.05)" font-family="&quot;Liberation Serif&quot;, serif" font-weight="bold" font-size="15" text-anchor="middle">0.6</text><text transform="translate(291.96,228.6) scale(1,1.05)" font-family="&quot;Liberation Serif&quot;, serif" font-weight="bold" font-size="15" text-anchor="middle">0.8</text><text transform="translate(334.20,228.6) scale(1,1.05)" font-family="&quot;Liberation Serif&quot;, serif" font-weight="bold" font-size="15" text-anchor="middle">1.0</text><text transform="translate(118.2,216.90) scale(1,1.08)" font-family="&quot;Liberation Serif&quot;, serif" font-weight="bold" font-size="15" text-anchor="end">0</text><text transform="translate(118.2,123.60) scale(1,1.08)" font-family="&quot;Liberation Serif&quot;, serif" font-weight="bold" font-size="15" text-anchor="end">10</text><text transform="translate(118.2,30.30) scale(1,1.08)" font-family="&quot;Liberation Serif&quot;, serif" font-weight="bold" font-size="15" text-anchor="end">20</text><text x="149.7" y="49.4" font-family="&quot;Liberation Serif&quot;, serif" font-weight="bold" font-size="15.6">Control</text><text x="149.7" y="68.7" font-family="&quot;Liberation Serif&quot;, serif" font-weight="bold" font-size="15.6">CaI<tspan font-size="11" dy="4">2</tspan></text><text x="149.7" y="91.8" font-family="&quot;Liberation Serif&quot;, serif" font-weight="bold" font-size="15.6">Ca(CF<tspan font-size="11" dy="4">3</tspan><tspan dy="-4">SO</tspan><tspan font-size="11" dy="4">3</tspan><tspan dy="-4">)</tspan><tspan font-size="11" dy="4">2</tspan></text><text x="324.3" y="47.3" font-family="&quot;Liberation Serif&quot;, serif" font-weight="bold" font-size="11.6" fill="#ff0000">16.50%</text><text x="272.3" y="69.3" font-family="&quot;Liberation Serif&quot;, serif" font-weight="bold" font-size="11.6" fill="#0000ff">15.57%</text><text x="255" y="90.3" font-family="&quot;Liberation Serif&quot;, serif" font-weight="bold" font-size="11.6" fill="#000">14.76%</text><text x="152.7" y="108" font-family="&quot;Liberation Serif&quot;, serif" font-weight="bold" font-size="8.4">CF<tspan font-size="5.6" dy="2">3</tspan><tspan dy="-2">SO</tspan><tspan font-size="5.6" dy="2">3</tspan><tspan font-size="5.6" dy="-5.5">-</tspan></text><text x="228.6" y="203.8" font-family="&quot;Liberation Serif&quot;, serif" font-weight="bold" font-size="8.9">Ca<tspan font-size="5.8" dy="-3.5">2+</tspan></text>
</svg></body></html>
